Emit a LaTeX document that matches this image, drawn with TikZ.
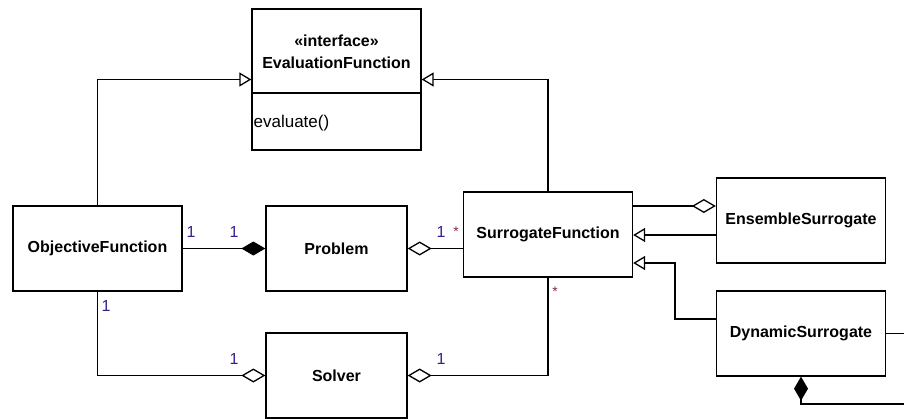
\documentclass[tikz,border=0pt]{standalone}
\usepackage{fontspec}
\setmainfont{Liberation Sans}
\usepackage{xcolor}
\usetikzlibrary{arrows.meta}
\definecolor{multblue}{RGB}{58,30,140}
\definecolor{multred}{RGB}{130,40,80}

\begin{document}
\begin{tikzpicture}[x=1pt, y=-1pt, line width=1.3pt,
    cls/.style={draw, fill=white, minimum width=169pt, minimum height=85pt, inner sep=0pt,
        font=\fontsize{16}{19}\selectfont\bfseries},
    gen/.style={-{Triangle[open, length=12pt, width=14pt, fill=white]}},
    aggr/.style={{Diamond[open, length=24pt, width=14pt, fill=white]}-},
    comp/.style={{Diamond[length=24pt, width=14pt]}-},
    mult/.style={font=\fontsize{16}{18}\selectfont, text=multblue, inner sep=0pt},
    many/.style={font=\fontsize{14}{16}\selectfont, text=multred, inner sep=0pt}]
    \useasboundingbox (0,0) rectangle (904,418);

    % classes
    \node[cls, minimum height=141pt] (eval) at (336.5,79.5) {};
    \draw (eval.west |- 0,93) -- (eval.east |- 0,93);
    \node[font=\fontsize{16}{22}\selectfont\bfseries, align=center] (evalname) at (336.5,52)
        {«interface»\\EvaluationFunction};
    \node[anchor=west, font=\fontsize{17}{20}\selectfont, inner sep=1pt] (evalop) at (252,123) {evaluate()};

    \node[cls] (obj) at (97.5,248.5) {ObjectiveFunction};
    \node[cls, minimum width=141pt] (prob) at (336.5,248.5) {Problem};
    \node[cls, minimum width=141pt] (solv) at (336.5,375.5) {Solver};
    \node[cls] (surr) at (548,234.5) {SurrogateFunction};
    \node[cls] (ens) at (801,220.5) {EnsembleSurrogate};
    \node[cls] (dyn) at (801,333.5) {DynamicSurrogate};

    % generalisations
    \draw[gen] (obj.north) |- (eval.west);
    \draw[gen] (surr.north) |- (eval.east);
    \draw[gen] ([yshift=-14.5pt]ens.west) -- ([yshift=-14.5pt]ens.west -| surr.east);
    \coordinate (bend) at (675,263);
    \draw[gen] ([yshift=14.5pt]dyn.west) -| (bend) -- (bend -| surr.east);

    % associations
    \draw[comp] (prob.west) -- (obj.east);
    \draw[aggr] (prob.east) -- (surr.west |- prob.east);
    \draw[aggr] (solv.west) -| (obj.south);
    \draw[aggr] (solv.east) -| (surr.south);
    \draw[aggr] ([yshift=14.5pt]ens.west) -- ([yshift=14.5pt]ens.west -| surr.east);
    \coordinate (loop) at (930,404);
    \draw[comp] (dyn.south) |- (loop) |- (dyn.east);

    % multiplicities
    \node[mult] (m1) at (191,232) {1};
    \node[mult] (m2) at (234,232) {1};
    \node[mult] (m3) at (441,232) {1};
    \node[many] (s1) at (456,232) {*};
    \node[mult] (m4) at (106,306) {1};
    \node[mult] (m5) at (234,359) {1};
    \node[mult] (m6) at (441,359) {1};
    \node[many] (s2) at (555,292) {*};
\end{tikzpicture}
\end{document}
